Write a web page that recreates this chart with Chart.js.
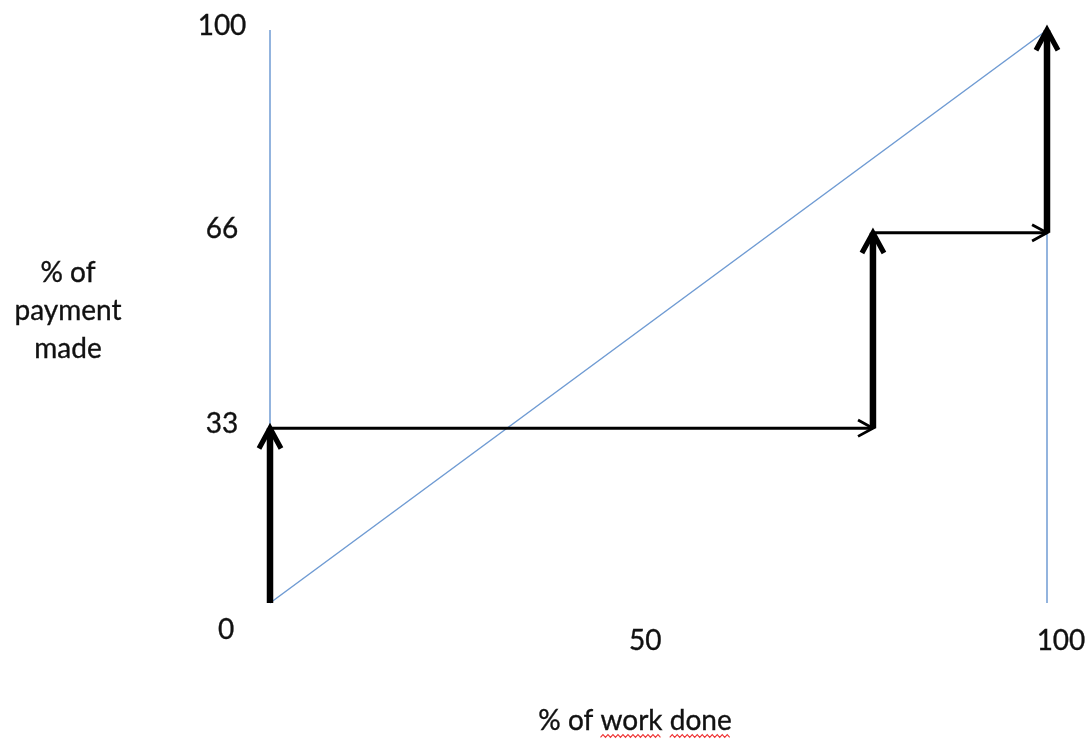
<!DOCTYPE html>
<html><head><meta charset="utf-8">
<script src="https://cdn.jsdelivr.net/npm/chart.js@4.4.1/dist/chart.umd.min.js"></script>
<style>html,body{margin:0;padding:0;background:#fff;}</style>
</head><body>
<canvas id="c" width="1092" height="740"></canvas>
<script>
// ---- data ----
const diagonalX = [0, 100];            // proportional payment line
const diagonalY = [0, 100];
const stageX = [0, 77.6, 100];         // % of work done at each payment stage
const stageY = [0, 30.5, 64.6, 100];   // % of payment reached at each stage
const boundaryX = [0, 100];            // vertical boundary lines
const xTickValues = [48.3, 101.8];
const xTickLabels = ['50', '100'];
const yTickValues = [-4.5, 31.4, 65.4, 100.9];
const yTickLabels = ['0', '33', '66', '100'];
const xTitle = '% of work done';
const yTitle = ['% of', 'payment', 'made'];

const BLUE = '#6f9bd3';
const FONT = '28px Lato';

const datasets = [];
// blue reference lines
datasets.push({data: diagonalX.map((x, i) => ({x, y: diagonalY[i]})), borderColor: BLUE, borderWidth: 1.5, order: 3});
boundaryX.forEach(x => datasets.push({data: [{x, y: 0}, {x, y: 100}], borderColor: BLUE, borderWidth: 1.5, order: 3}));
// thick vertical arrows (payments)
for (let i = 0; i < stageX.length; i++) {
  datasets.push({data: [{x: stageX[i], y: stageY[i]}, {x: stageX[i], y: stageY[i + 1]}],
    borderColor: '#000', borderWidth: 6.5, arrow: {len: 23, spread: 0.5, width: 5.2}, order: 1});
}
// thin horizontal arrows (work progress)
for (let i = 0; i < stageX.length - 1; i++) {
  datasets.push({data: [{x: stageX[i], y: stageY[i + 1]}, {x: stageX[i + 1], y: stageY[i + 1]}],
    borderColor: '#000', borderWidth: 3, arrow: {len: 17, spread: 0.5, width: 2.8}, order: 2});
}

const arrowPlugin = {
  id: 'arrows',
  afterDatasetsDraw(chart) {
    const ctx = chart.ctx;
    chart.data.datasets.forEach((ds, i) => {
      if (!ds.arrow) return;
      const pts = chart.getDatasetMeta(i).data;
      const a = pts[pts.length - 2], b = pts[pts.length - 1];
      const ang = Math.atan2(b.y - a.y, b.x - a.x);
      const {len, spread, width} = ds.arrow;
      ctx.save();
      ctx.strokeStyle = ds.borderColor;
      ctx.lineWidth = width;
      ctx.lineJoin = 'miter';
      ctx.lineCap = 'butt';
      ctx.beginPath();
      ctx.moveTo(b.x - len * Math.cos(ang - spread), b.y - len * Math.sin(ang - spread));
      ctx.lineTo(b.x, b.y);
      ctx.lineTo(b.x - len * Math.cos(ang + spread), b.y - len * Math.sin(ang + spread));
      ctx.stroke();
      ctx.restore();
    });
  }
};

function txt(ctx, s, x, y) {
  ctx.strokeText(s, x, y);
  ctx.fillText(s, x, y);
}

const textPlugin = {
  id: 'texts',
  afterDraw(chart) {
    const ctx = chart.ctx;
    const xs = chart.scales.x, ys = chart.scales.y;
    ctx.save();
    ctx.font = FONT;
    ctx.fillStyle = '#111';
    ctx.strokeStyle = '#111';
    ctx.lineWidth = 0.35;
    ctx.textAlign = 'center';
    ctx.textBaseline = 'alphabetic';
    // y tick labels
    yTickValues.forEach((v, i) => {
      const cx = xs.getPixelForValue(0) - (i === 0 ? 44 : 48);
      txt(ctx, yTickLabels[i], cx, ys.getPixelForValue(v) + 10);
    });
    // x tick labels
    xTickValues.forEach((v, i) => {
      txt(ctx, xTickLabels[i], xs.getPixelForValue(v), ys.getPixelForValue(0) + 47);
    });
    // y title (horizontal, three lines)
    yTitle.forEach((t, i) => txt(ctx, t, 68, 282 + i * 38));
    // x title
    const cx = 635, by = 730;
    txt(ctx, xTitle, cx, by);
    // spelling squiggles under "work" and "done"
    const total = ctx.measureText(xTitle).width;
    const start = cx - total / 2;
    const words = xTitle.split(' ');
    let offset = 0;
    ctx.strokeStyle = '#ee3333';
    ctx.lineWidth = 1.1;
    words.forEach((w) => {
      const ww = ctx.measureText(w).width;
      if (w === 'work' || w === 'done') {
        ctx.beginPath();
        const x0 = start + offset, y0 = by + 6;
        for (let x = 0, j = 0; x <= ww; x += 2.5, j++) {
          const yy = y0 + (j % 2 ? -1.4 : 1.4);
          if (x === 0) ctx.moveTo(x0 + x, yy); else ctx.lineTo(x0 + x, yy);
        }
        ctx.stroke();
      }
      offset += ww + ctx.measureText(' ').width;
    });
    ctx.restore();
  }
};

new Chart(document.getElementById('c'), {
  type: 'scatter',
  data: {datasets: datasets.map(d => Object.assign({showLine: true, pointRadius: 0, clip: false, fill: false, borderCapStyle: 'butt'}, d))},
  options: {
    responsive: false,
    animation: false,
    devicePixelRatio: 1,
    layout: {padding: {left: 270, right: 45, top: 30, bottom: 137}},
    scales: {
      x: {type: 'linear', min: 0, max: 100, display: false},
      y: {type: 'linear', min: 0, max: 100, display: false}
    },
    plugins: {legend: {display: false}, tooltip: {enabled: false}}
  },
  plugins: [arrowPlugin, textPlugin]
});
</script>
</body></html>
